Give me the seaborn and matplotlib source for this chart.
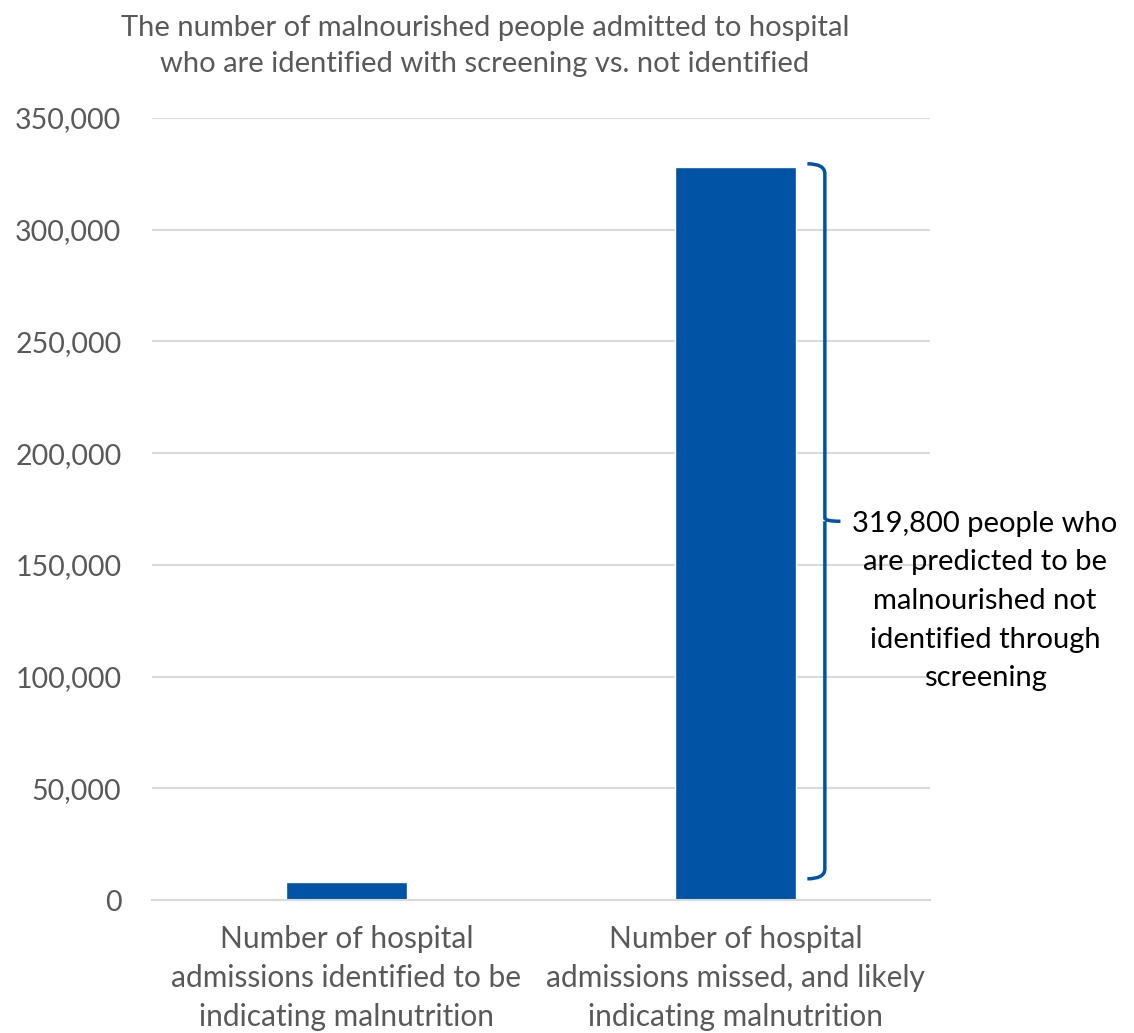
import matplotlib
matplotlib.use("Agg")
import matplotlib.pyplot as plt
import seaborn as sns
import pandas as pd
from matplotlib.path import Path
from matplotlib.patches import PathPatch
from matplotlib.ticker import FuncFormatter

categories = ["Number of hospital\nadmissions identified to be\nindicating malnutrition",
              "Number of hospital\nadmissions missed, and likely\nindicating malnutrition"]
values = [8200, 328000]
title = "The number of malnourished people admitted to hospital\nwho are identified with screening vs. not identified"
note = "319,800 people who\nare predicted to be\nmalnourished not\nidentified through\nscreening"

sns.set_style("white")
plt.rcParams['font.family'] = ['Lato', 'DejaVu Sans']

df = pd.DataFrame({"cat": categories, "val": values})
blue = "#0153A5"
grey = "#595959"

fig = plt.figure(figsize=(11.34, 10.33), dpi=100)
ax = fig.add_axes([0.134, 0.1287, 0.686, 0.7571])
sns.barplot(data=df, x="cat", y="val", color=blue, width=0.31, saturation=1, ax=ax)

ax.set_ylim(0, 350000)
ax.set_yticks(range(0, 350001, 50000))
ax.yaxis.set_major_formatter(FuncFormatter(lambda v, p: f"{int(v):,}"))
ax.grid(axis="y", color="#d9d9d9", linewidth=1.5)
ax.set_axisbelow(True)
for s in ["top", "right", "left"]:
    ax.spines[s].set_visible(False)
ax.spines["bottom"].set_color("#d9d9d9")
ax.spines["bottom"].set_linewidth(1.5)
ax.tick_params(axis="y", length=0, labelsize=20.5, colors=grey, pad=22)
ax.tick_params(axis="x", length=0, labelsize=21.5, colors=grey, pad=18)
ax.set_xlabel("")
ax.set_ylabel("")
for lbl in ax.get_xticklabels():
    lbl.set_linespacing(1.47)

# brace
xb, xe, xt = 1.185, 1.23, 1.27
y0, y1 = 11000, 328000
ym = (y0 + y1) / 2
codes = [Path.MOVETO, Path.CURVE3, Path.CURVE3,
         Path.LINETO, Path.CURVE3, Path.LINETO,
         Path.MOVETO, Path.CURVE3,
         Path.LINETO, Path.CURVE3, Path.CURVE3]
verts = [(xb, y1 + 1500), (xe, y1 + 1500), (xe, y1 - 3000),
         (xe, ym + 1500), (xe, ym), (xt, ym),
         (xe, ym), (xe, ym - 1500),
         (xe, y0 + 3000), (xe, y0 - 1500), (xb, y0 - 1500)]
ax.add_patch(PathPatch(Path(verts, codes), fill=False, edgecolor=blue,
                       linewidth=2.5, clip_on=False))

fig.text(985 / 1134, 1 - 601 / 1033, note, ha="center", va="center",
         fontsize=21, color="black", linespacing=1.6)
fig.text(485 / 1134, 1 - 46 / 1033, title, ha="center", va="center",
         fontsize=21, color=grey, linespacing=1.47)

fig.savefig("out.png", dpi=100)
